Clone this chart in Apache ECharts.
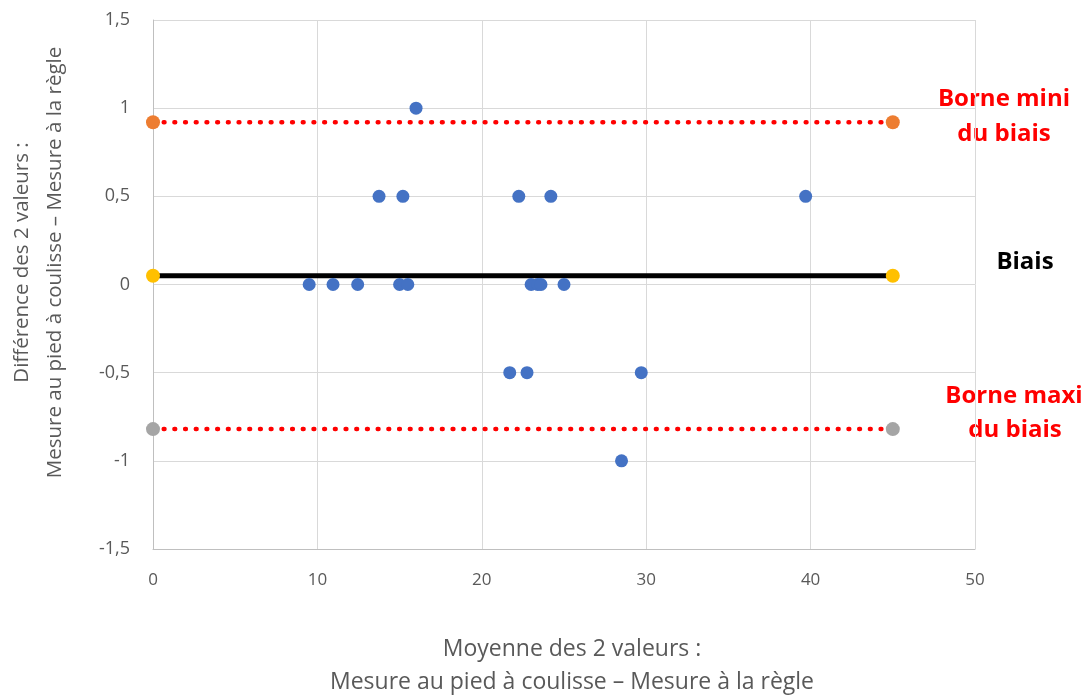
<!DOCTYPE html>
<html><head><meta charset="utf-8">
<script src="https://cdn.jsdelivr.net/npm/echarts@6/dist/echarts.min.js"></script>
<style>html,body{margin:0;padding:0;background:#fff}#c{width:1092px;height:695px}</style>
</head><body><div id="c"></div>
<script>
const xValues = [16.0, 13.75, 15.2, 22.25, 24.2, 39.7, 9.5, 10.95, 12.45, 15.0, 15.5, 23.0, 23.4, 23.6, 25.0, 21.7, 22.75, 29.7, 28.5];
const yValues = [1.0, 0.5, 0.5, 0.5, 0.5, 0.5, 0, 0, 0, 0, 0, 0, 0, 0, 0, -0.5, -0.5, -0.5, -1.0];
const lineX = [0, 45];
const bias = 0.05;
const upperBound = 0.92;
const lowerBound = -0.82;
const xTicks = [0, 10, 20, 30, 40, 50];
const yTicks = [-1.5, -1, -0.5, 0, 0.5, 1, 1.5];

const font = "'Open Sans', sans-serif";
const chart = echarts.init(document.getElementById('c'));
const pts = xValues.map((x, i) => [x, yValues[i]]);
function hline(v){ return lineX.map(x => [x, v]); }
const lblFont = "bold 24px 'Open Sans', sans-serif";
function label(text, x, y, color){
  return {type: 'text', x: x, y: y, style: {text: text, fill: color, font: lblFont, align: 'center', verticalAlign: 'middle'}};
}

chart.setOption({
  animation: false,
  grid: {left: 153, right: 117, top: 20, bottom: 146, outerBoundsMode: 'none', containLabel: false},
  xAxis: {
    type: 'value', min: 0, max: 50, interval: 10,
    axisLine: {show: true, onZero: false, lineStyle: {color: '#bfbfbf'}},
    axisTick: {show: false},
    splitLine: {show: true, lineStyle: {color: '#d9d9d9'}},
    axisLabel: {color: '#595959', fontSize: 17, margin: 23, fontFamily: font},
    name: 'Moyenne des 2 valeurs :\nMesure au pied à coulisse – Mesure à la règle',
    nameLocation: 'middle', nameGap: 84,
    nameTextStyle: {color: '#595959', fontSize: 23, lineHeight: 33, fontFamily: font, padding: [0, 0, 0, 16]}
  },
  yAxis: {
    type: 'value', min: -1.5, max: 1.5, interval: 0.5,
    axisLine: {show: true, onZero: false, lineStyle: {color: '#bfbfbf'}},
    axisTick: {show: false},
    splitLine: {show: true, lineStyle: {color: '#d9d9d9'}},
    axisLabel: {color: '#595959', fontSize: 18, margin: 23, fontFamily: font,
      formatter: v => String(v).replace('.', ',')},
    name: 'Différence des 2 valeurs :\nMesure au pied à coulisse – Mesure à la règle',
    nameLocation: 'middle', nameGap: 81, nameRotate: 90,
    nameTextStyle: {color: '#595959', fontSize: 20.5, lineHeight: 33, fontFamily: font, padding: [0, 0, 0, 44]}
  },
  series: [
    {type: 'line', data: hline(upperBound), symbol: 'circle', symbolSize: 14,
      itemStyle: {color: '#ED7D31'},
      lineStyle: {color: '#FF0000', width: 4.5, type: [0.8, 9.9], cap: 'round'}, z: 2},
    {type: 'line', data: hline(lowerBound), symbol: 'circle', symbolSize: 14,
      itemStyle: {color: '#A5A5A5'},
      lineStyle: {color: '#FF0000', width: 4.5, type: [0.8, 9.9], cap: 'round'}, z: 2},
    {type: 'line', data: hline(bias), symbol: 'circle', symbolSize: 14,
      itemStyle: {color: '#FFC000'},
      lineStyle: {color: '#000000', width: 5}, z: 3},
    {type: 'scatter', data: pts, symbolSize: 13, itemStyle: {color: '#4472C4', opacity: 1}, z: 4}
  ],
  graphic: [
    label('Borne mini', 1004, 99, '#FF0000'),
    label('du biais', 1004, 134, '#FF0000'),
    label('Biais', 1025, 262, '#000000'),
    label('Borne maxi', 1014, 396, '#FF0000'),
    label('du biais', 1015, 430, '#FF0000')
  ]
});
</script></body></html>
